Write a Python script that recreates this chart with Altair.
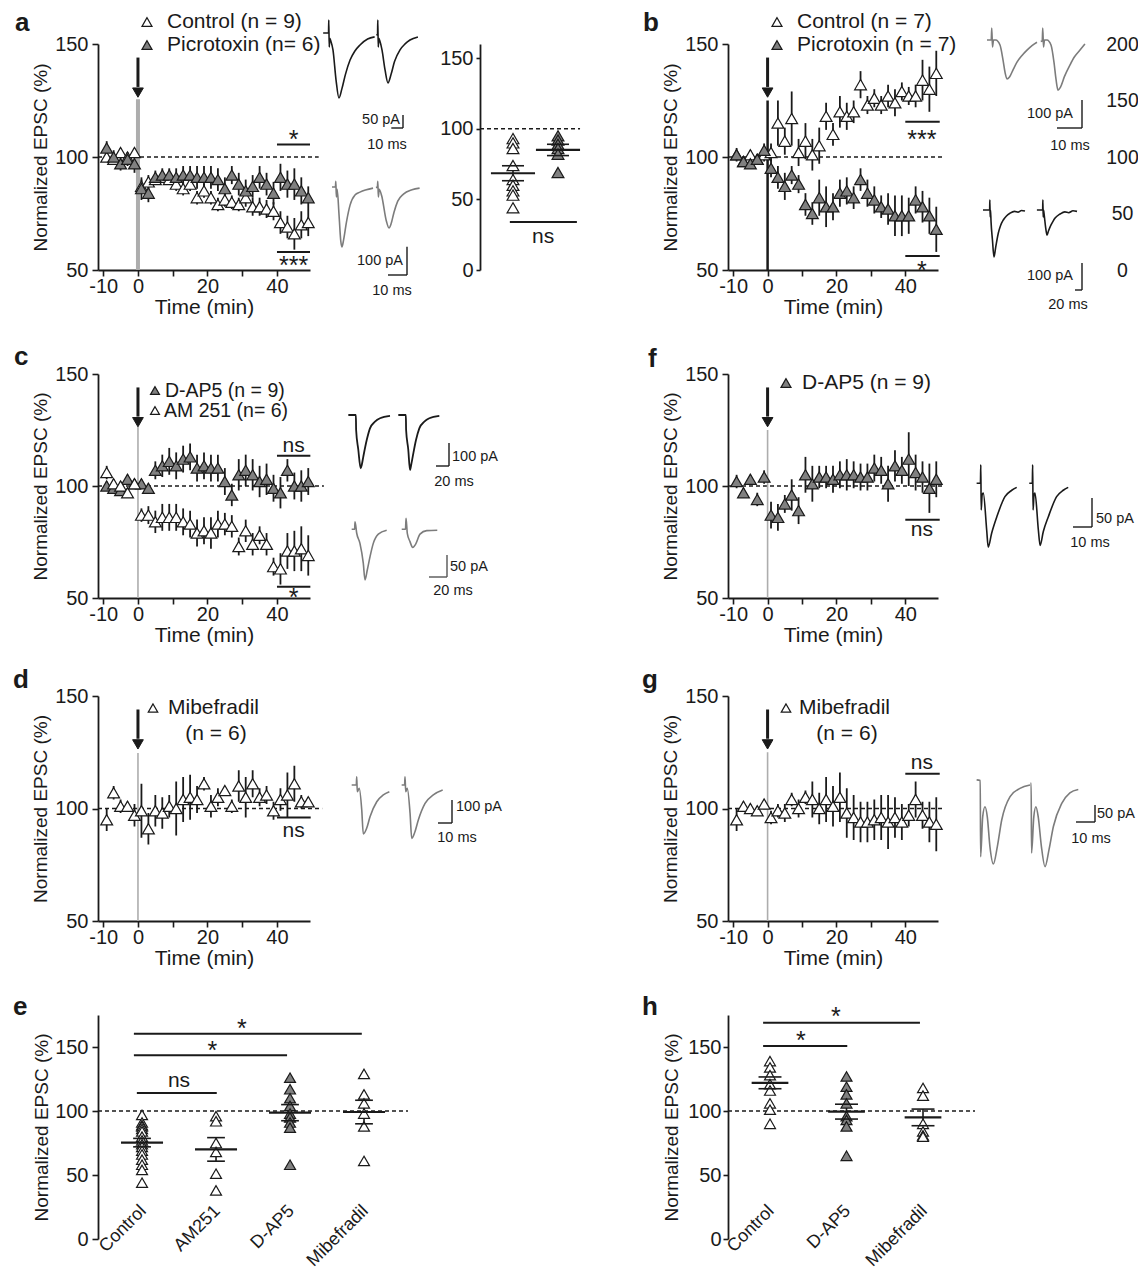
import altair as alt
import pandas as pd

FONT = "Liberation Sans"
INK = "#1a1a1a"
GREY = "#808080"
TRACE_GREY = "#7c7c7c"
ZERO_GREY = "#adadad"

# ---------------- time-course data (mean %, SEM %) ----------------
TIME = [-9, -7, -5, -3, -1, 1, 3, 5, 7, 9, 11, 13, 15, 17, 19,
        21, 23, 25, 27, 29, 31, 33, 35, 37, 39, 41, 43, 45, 47, 49]

A_CTRL = [100, 99, 102, 100, 102, 87, 89, 90, 91, 90, 88, 86, 88, 82, 85,
          82, 79, 81, 80, 79, 82, 78, 78, 77, 76, 71, 69, 66, 70, 71]
A_CTRL_SEM = [2, 2, 2, 2, 2, 3, 3, 2, 2, 2, 3, 3, 3, 3, 3,
              3, 3, 3, 3, 3, 4, 4, 4, 4, 4, 5, 5, 7, 6, 6]
A_PTX = [104, 100, 97, 99, 97, 86, 84, 91, 92, 92, 91, 92, 92, 91, 91,
         91, 90, 86, 92, 88, 85, 87, 91, 88, 84, 91, 88, 88, 85, 82]
A_PTX_SEM = [3, 3, 3, 3, 4, 5, 4, 3, 3, 3, 4, 4, 4, 5, 5,
             5, 5, 5, 4, 5, 5, 5, 5, 5, 5, 6, 6, 7, 6, 5]

B_CTRL = [101, 98, 101, 99, 101, 102, 115, 107, 117, 102, 107, 101, 105, 118, 110,
          120, 118, 120, 132, 123, 126, 123, 127, 124, 129, 127, 127, 134, 130, 137]
B_CTRL_SEM = [2, 2, 2, 2, 3, 4, 10, 6, 12, 6, 8, 7, 8, 6, 5,
              7, 6, 5, 6, 4, 4, 4, 5, 6, 4, 4, 5, 9, 10, 10]
B_PTX = [101, 98, 97, 99, 103, 95, 91, 87, 92, 88, 79, 75, 82, 78, 78,
         84, 85, 82, 90, 84, 81, 78, 77, 74, 74, 74, 81, 78, 74, 68]
B_PTX_SEM = [3, 2, 2, 2, 3, 4, 5, 6, 4, 4, 5, 5, 8, 9, 6,
             6, 6, 5, 5, 6, 6, 5, 7, 9, 9, 8, 6, 7, 8, 10]

C_DAP5 = [100, 99, 98, 103, 101, 101, 99, 107, 109, 111, 109, 112, 113, 108, 109,
          108, 108, 102, 96, 105, 107, 105, 102, 103, 99, 97, 107, 100, 100, 102]
C_DAP5_SEM = [2, 2, 2, 2, 2, 2, 2, 4, 5, 6, 6, 6, 6, 6, 6,
              6, 6, 6, 5, 7, 7, 7, 7, 7, 6, 7, 5, 6, 7, 6]
C_AM = [106, 101, 100, 97, 101, 87, 87, 84, 86, 86, 86, 84, 83, 79, 80,
        79, 83, 83, 82, 73, 80, 74, 78, 74, 64, 63, 71, 71, 72, 69]
C_AM_SEM = [3, 2, 2, 2, 2, 3, 4, 5, 6, 6, 6, 6, 6, 6, 6,
            7, 6, 5, 5, 4, 5, 5, 4, 5, 4, 7, 8, 9, 10, 9]

F_DAP5 = [102, 97, 103, 94, 104, 87, 86, 92, 96, 89, 105, 101, 104, 104, 103,
          105, 105, 105, 104, 104, 108, 107, 101, 109, 107, 112, 106, 104, 99, 103]
F_SEM = [3, 2, 2, 3, 3, 6, 6, 4, 7, 6, 8, 8, 5, 5, 6,
         6, 7, 6, 6, 6, 6, 6, 8, 7, 6, 12, 8, 7, 11, 8]

D_MIB = [95, 107, 101, 101, 97, 99, 91, 99, 98, 101, 100, 104, 105, 104, 111,
         101, 105, 108, 101, 110, 105, 111, 105, 106, 99, 104, 106, 111, 103, 103]
D_SEM = [5, 3, 3, 2, 5, 12, 7, 7, 7, 5, 12, 10, 10, 6, 3,
         5, 4, 2, 3, 7, 9, 6, 4, 4, 4, 5, 10, 8, 3, 2]

G_MIB = [95, 101, 100, 99, 102, 96, 99, 98, 104, 100, 105, 104, 100, 104, 101,
         105, 98, 96, 94, 94, 95, 96, 94, 96, 94, 97, 104, 97, 94, 93]
G_SEM = [5, 2, 2, 2, 2, 3, 3, 4, 3, 4, 3, 8, 7, 10, 9,
         11, 11, 10, 9, 9, 9, 10, 12, 9, 8, 5, 8, 6, 9, 12]

# ---------------- scatter (individual cells) ----------------
ASC_CTRL = [93, 90, 86, 74, 64, 60, 56, 53, 44]
ASC_PTX = [95, 92, 89, 86, 82, 69]
ASC_MEAN = [68.5, 85]
ASC_SEM = [5.3, 4.0]

E_NAMES = ["Control", "AM251", "D-AP5", "Mibefradil"]
E_CTRL = [97, 91, 89, 88, 86, 84, 80, 77, 74, 72, 69, 66, 62, 58, 54, 44]
E_AM = [96, 92, 75, 68, 51, 38]
E_DAP5 = [126, 117, 110, 104, 98, 95, 91, 87, 58]
E_MIB = [129, 113, 106, 98, 88, 61]
E_MEAN = [75.3, 70, 98.7, 99.2]
E_SEM = [3.3, 9.2, 6.3, 9.2]

H_NAMES = ["Control", "D-AP5", "Mibefradil"]
H_CTRL = [139, 134, 128, 121, 116, 106, 101, 90]
H_DAP5 = [127, 119, 113, 106, 96, 93, 88, 65]
H_MIB = [118, 112, 90, 84, 81, 80]
H_MEAN = [122, 99.5, 95]
H_SEM = [4.6, 5.8, 6.5]

# ---------------- example EPSC traces (time ms, current pA) ----------------
A_TOP_S1_T = [-5, -0.4, -0.2, 0.2, 0.6, 1.5, 3.4, 6, 8.5, 11, 14, 18, 22, 26.5, 33, 39]
A_TOP_S1_I = [0, 0, 50, -54, -20, -30, -65, -180, -250, -215, -160, -104, -70, -46, -23, -15]
A_TOP_S2_T = [40.5, 41.5, 41.7, 42.1, 42.5, 43.4, 45.3, 47.9, 50.4, 53, 56, 60.7, 65, 69.2, 76]
A_TOP_S2_I = [-8, -5, 50, -54, -20, -30, -65, -142, -192, -160, -110, -65, -42, -27, -15]

A_BOT_S1_T = [-2.1, -0.3, -0.1, 0.2, 0.6, 1.6, 2.5, 3.1, 4.0, 5.5, 7.4, 10, 12.6, 19.5]
A_BOT_S1_I = [0, 0, 20, -35, -8, -99, -190, -212, -187, -124, -64, -28, -18, -4]
A_BOT_S2_T = [21.0, 21.8, 22.0, 22.3, 22.7, 24.0, 26.5, 27.9, 29.0, 30.5, 32.5, 35.5, 40, 44]
A_BOT_S2_I = [-2, 0, 20, -35, -8, -30, -120, -145, -130, -90, -50, -25, -10, -4]

B_TOP_S1_T = [-2.0, -0.3, -0.1, 0.2, 0.6, 1.5, 3.2, 4.4, 5.2, 6.0, 7.0, 8.5, 10, 12, 14, 16, 18]
B_TOP_S1_I = [0, 0, 43, -25, 0, 0, -18, -71, -115, -139, -132, -105, -79, -55, -36, -20, -8]
B_TOP_S2_T = [19.5, 20.1, 20.3, 20.6, 21.0, 22.0, 23.6, 24.8, 25.6, 26.4, 27.4, 29, 31.2, 33, 35.2, 37.2]
B_TOP_S2_I = [-5, -3, 43, -25, 0, 0, -18, -80, -140, -179, -168, -130, -89, -60, -36, -14]

B_BOT_S1_T = [-20, -1, -0.5, 0.5, 1.5, 3, 7, 11.4, 16, 23.8, 30, 38, 47, 57, 70, 80, 90, 100]
B_BOT_S1_I = [0, 0, 37, -26, 0, -44, -111, -174, -140, -85, -58, -37, -22, -12, -5, -8, -2, -4]
B_BOT_S2_T = [134, 150.5, 151, 152, 153, 155, 159, 162.9, 167, 174, 180, 186, 200, 214, 225, 237, 248.6]
B_BOT_S2_I = [0, 0, 37, -26, 0, -20, -65, -93, -78, -56, -42, -30, -15, -7, -10, -3, -5]

C_TOP_S1_T = [-11.8, -0.2, 0.2, 3.5, 7.2, 9, 11.2, 16.5, 21.5, 29.2, 36.9, 52.3]
C_TOP_S1_I = [0, 0, -65, -150, -232, -215, -182, -109, -58, -29, -14, -4]
C_TOP_S2_T = [65.1, 76.7, 77.1, 80.4, 83.1, 85, 87.2, 92.3, 97.4, 105.1, 112.8, 128.2]
C_TOP_S2_I = [0, 0, -65, -150, -239, -215, -182, -109, -58, -29, -14, -4]

C_BOT_S1_T = [-4.8, -1.5, -1.1, 0.8, 4.4, 8.1, 10, 12.6, 15.6, 19.2, 24.8, 34.1]
C_BOT_S1_I = [0, 0, 17, -9, -32, -77, -115, -92, -62, -32, -11, -2]
C_BOT_S2_T = [50.8, 55.0, 55.6, 57.0, 60.0, 63.0, 66.7, 71.1, 78.6, 90.3]
C_BOT_S2_I = [0, 0, 25, -9, -28, -41, -32, -11, -3, -2]

F_S1_T = [-2.3, -0.3, -0.1, 0.1, 0.6, 1.2, 3.0, 3.8, 5.6, 8.3, 12.6, 16.2, 18.8]
F_S1_I = [0, 0, 32, -46, -20, -17, -81, -110, -86, -58, -23, -12, -7]
F_S2_T = [25.4, 27.0, 27.2, 27.4, 27.9, 28.4, 30.2, 31.1, 32.8, 35.4, 39.8, 43.3, 45.9]
F_S2_I = [0, 0, 32, -46, -20, -17, -81, -107, -83, -58, -23, -12, -7]

D_S1_T = [-3.8, -0.5, -0.2, 0.2, 1.6, 3.4, 4.5, 6.9, 9.3, 14.1, 18.8, 23.1]
D_S1_I = [0, 0, 36, -29, -14, -109, -213, -188, -138, -73, -43, -29]
D_S2_T = [31.9, 34.0, 34.3, 34.8, 35.9, 37.9, 39.1, 41.4, 43.8, 48.6, 54.5, 61.2]
D_S2_I = [0, 0, 36, -29, -14, -123, -232, -203, -152, -80, -43, -22]

G_S1_T = [-2.3, -0.4, -0.2, 0.9, 2.1, 3.3, 4.7, 6.5, 8.6, 10.9, 15.3, 20.5, 25.8]
G_S1_I = [15, 13, -211, -93, -64, -93, -181, -232, -181, -103, -34, -10, 0]
G_S2_T = [26.0, 26.4, 26.6, 27.8, 28.9, 30.1, 31.8, 33.7, 35.8, 38.1, 42.5, 46.8, 51.2]
G_S2_I = [5, 5, -200, -93, -64, -93, -181, -240, -190, -122, -54, -23, -13]

# ---------------- helpers ----------------
XMIN, XMAX = -11.5, 49.5
X_LABELS = ("datum.value == -10 ? '-10' : ((datum.value == 0 || datum.value == 20 || "
            "datum.value == 40) ? datum.label : '')")
AXSTYLE = dict(grid=False, domainColor=INK, tickColor=INK, labelColor=INK, titleColor=INK,
               domainWidth=1.8, tickWidth=1.6, labelFlush=False, labelOverlap=False,
               labelFont=FONT, titleFont=FONT, titleFontWeight="normal")
BAR_FONT = 14.5


def one(**kw):
    return alt.Chart(pd.DataFrame({k: [v] for k, v in kw.items()}))


def ann_text(text, x, y, size, align="left", baseline="middle", weight="normal", color=INK):
    return alt.Chart(pd.DataFrame({"s": [text]})).mark_text(
        align=align, baseline=baseline, fontSize=size, fontWeight=weight, font=FONT, color=color
    ).encode(x=alt.value(x), y=alt.value(y), text="s:N")


def ann_tri(x, y, filled, size):
    return alt.Chart(pd.DataFrame({"s": [0]})).mark_point(
        shape="triangle-up", filled=True, fill=GREY if filled else "white", stroke=INK,
        strokeWidth=1.2, size=size, opacity=1
    ).encode(x=alt.value(x), y=alt.value(y))


def sig_text(label, x, y, X, Y):
    star = "*" in label
    fs = 25 if star else 21
    dy = 0.57 * fs if star else 0.26 * fs
    return alt.Chart(pd.DataFrame({"x": [x], "y": [y], "s": [label]})).mark_text(
        font=FONT, fontSize=fs, baseline="alphabetic", align="center", dy=dy, color=INK
    ).encode(x=X("x"), y=Y("y"), text="s:N")


def tri_mark(chart, filled, size):
    return chart.mark_point(shape="triangle-up", filled=True, fill=GREY if filled else "white",
                            stroke=INK, strokeWidth=1.2, size=size, opacity=1)


def filler():
    return alt.Chart(pd.DataFrame({"v": [0]})).mark_point(opacity=0).encode(
        x=alt.X("v:Q", axis=None), y=alt.Y("v:Q", axis=None)).properties(width=1, height=1)


def time_panel(w, h, series, dash_end, zero_top, zero_color, zero_width, sigs, letter, legend,
               legend_font=21):
    xs = alt.Scale(domain=[XMIN, XMAX], nice=False, zero=False)
    ys = alt.Scale(domain=[50, 150], nice=False, zero=False)
    xax = alt.Axis(values=[-10, 0, 10, 20, 30, 40, 50], labelExpr=X_LABELS, title="Time (min)",
                   titleFontSize=21, titleX=w / 2, titleY=37, titleBaseline="middle", titleAlign="center",
                   labelFontSize=20, labelPadding=0, tickSize=6, **AXSTYLE)
    yax = alt.Axis(values=[50, 100, 150], title="Normalized EPSC (%)", titleFontSize=19,
                   titleX=-58, titleY=h / 2, titleBaseline="middle", titleAlign="center",
                   labelFontSize=20, labelPadding=4, tickSize=6, **AXSTYLE)

    def X(f):
        return alt.X(f, type="quantitative", scale=xs, axis=xax)

    def Y(f):
        return alt.Y(f, type="quantitative", scale=ys, axis=yax)

    layers = [
        one(x1=XMIN, x2=dash_end, y=100).mark_rule(color=INK, strokeWidth=1.3, strokeDash=[4, 3])
        .encode(x=X("x1"), x2="x2", y=Y("y")),
        one(t=0, y1=50, y2=zero_top).mark_rule(color=zero_color, strokeWidth=zero_width)
        .encode(x=X("t"), y=Y("y1"), y2="y2"),
        one(t=0, y1=131, y2=144).mark_rule(color=INK, strokeWidth=3)
        .encode(x=X("t"), y=Y("y1"), y2="y2"),
        one(t=0, y=128.5).mark_point(shape="triangle-down", filled=True, fill=INK, stroke=INK,
                                     strokeWidth=1, size=115, opacity=1)
        .encode(x=X("t"), y=Y("y")),
    ]
    frames = [pd.DataFrame({"t": TIME, "v": v, "e": e}) for v, e, _ in series]
    for df in frames:
        layers.append(alt.Chart(df).transform_calculate(lo="datum.v - datum.e", hi="datum.v + datum.e")
                      .mark_rule(color=INK, strokeWidth=1.8).encode(x=X("t"), y=Y("lo"), y2="hi"))
    for df, (_, _, filled) in zip(frames, series):
        layers.append(tri_mark(alt.Chart(df), filled, 140).encode(x=X("t"), y=Y("v")))
    for bar_y, bar_x2, label, ty in sigs:
        layers.append(one(x1=40, x2=bar_x2, y=bar_y).mark_rule(color=INK, strokeWidth=2)
                      .encode(x=X("x1"), x2="x2", y=Y("y")))
        layers.append(sig_text(label, 44.8, ty, X, Y))
    ch, lx, ly = letter
    layers.append(ann_text(ch, lx, ly, 26, baseline="alphabetic", weight="bold"))
    for item in legend:
        if item[0] == "tri":
            layers.append(ann_tri(item[1], item[2], item[3], item[4]))
        else:
            layers.append(ann_text(item[1], item[2], item[3], legend_font, item[4]))
    return alt.layer(*layers).properties(width=w, height=h)


def scatter_layer(h, groups, means, sems, xdom, ydom, yax, mean_half, sem_half, tri_size,
                  dash_start, dash_end, sigs, names=None, letter=None):
    xs = alt.Scale(domain=xdom, nice=False, zero=False)
    ys = alt.Scale(domain=ydom, nice=False, zero=False)

    def X(f):
        return alt.X(f, type="quantitative", scale=xs, axis=None)

    def Y(f):
        return alt.Y(f, type="quantitative", scale=ys, axis=yax)

    pos = list(range(1, len(means) + 1))
    stat = alt.Chart(pd.DataFrame({"g": pos, "m": means, "s": sems})).transform_calculate(
        ml="datum.g - %f" % mean_half, mr="datum.g + %f" % mean_half,
        sl="datum.g - %f" % sem_half, sr="datum.g + %f" % sem_half,
        lo="datum.m - datum.s", hi="datum.m + datum.s")
    layers = [
        one(x1=dash_start, x2=dash_end, y=100).mark_rule(color=INK, strokeWidth=1.3, strokeDash=[4, 3])
        .encode(x=X("x1"), x2="x2", y=Y("y")),
        stat.mark_rule(color=INK, strokeWidth=1.6).encode(x=X("g"), y=Y("lo"), y2="hi"),
    ]
    for i, (vals, filled) in enumerate(groups):
        df = pd.DataFrame({"g": [i + 1] * len(vals), "v": vals})
        layers.append(tri_mark(alt.Chart(df), filled, tri_size).encode(x=X("g"), y=Y("v")))
    layers += [
        stat.mark_rule(color=INK, strokeWidth=2.2).encode(x=X("ml"), x2="mr", y=Y("m")),
        stat.mark_rule(color=INK, strokeWidth=1.6).encode(x=X("sl"), x2="sr", y=Y("lo")),
        stat.mark_rule(color=INK, strokeWidth=1.6).encode(x=X("sl"), x2="sr", y=Y("hi")),
    ]
    for x1, x2, y, label, tx, ty in sigs:
        layers.append(one(x1=x1, x2=x2, y=y).mark_rule(color=INK, strokeWidth=2)
                      .encode(x=X("x1"), x2="x2", y=Y("y")))
        layers.append(sig_text(label, tx, ty, X, Y))
    if names:
        layers.append(
            alt.Chart(pd.DataFrame({"g": pos, "name": names})).mark_text(
                angle=315, align="right", baseline="alphabetic", fontSize=18, font=FONT, color=INK,
                dx=3.5, dy=3.5
            ).encode(x=X("g"), y=alt.value(h - 27), text="name:N"))
    if letter:
        ch, lx, ly = letter
        layers.append(ann_text(ch, lx, ly, 26, baseline="alphabetic", weight="bold"))
    return alt.layer(*layers)


def trace_layer(sweeps, color, box, origin, sx, sy, bar, texts, lw=1.6):
    x0, y0, w, h = box
    ox, oy = origin
    xs = alt.Scale(domain=[(x0 - ox) / sx, (x0 + w - ox) / sx], nice=False, zero=False)
    ys = alt.Scale(domain=[(oy - y0 - h) / sy, (oy - y0) / sy], nice=False, zero=False)

    def X(f):
        return alt.X(f, type="quantitative", scale=xs, axis=None)

    def Y(f):
        return alt.Y(f, type="quantitative", scale=ys, axis=None)

    df = pd.concat([pd.DataFrame({"t": tt, "i": ii, "sweep": k}) for k, (tt, ii) in enumerate(sweeps)],
                   ignore_index=True)
    layers = [alt.Chart(df).mark_line(color=color, strokeWidth=lw, interpolate="monotone")
              .encode(x=X("t"), y=Y("i"), detail="sweep:N")]
    bx, by, dt, di, bcol = bar
    tc = (bx - ox) / sx
    ic = (oy - by) / sy
    layers.append(one(t=tc, i1=ic, i2=ic + di).mark_rule(color=bcol, strokeWidth=1.4)
                  .encode(x=X("t"), y=Y("i1"), y2="i2"))
    layers.append(one(t1=tc - dt, t2=tc, i=ic).mark_rule(color=bcol, strokeWidth=1.4)
                  .encode(x=X("t1"), x2="t2", y=Y("i")))
    for label, px, py, align in texts:
        layers.append(ann_text(label, px - x0, py - y0, BAR_FONT, align))
    return alt.layer(*layers)


def combine(w, h, *layers):
    return alt.layer(*layers).resolve_scale(x="independent", y="independent").properties(width=w, height=h)


# ---------------- panels ----------------
a_time = time_panel(
    212, 226, [(A_CTRL, A_CTRL_SEM, False), (A_PTX, A_PTX_SEM, True)], 52, 125.5, ZERO_GREY, 4,
    [(105.5, 49.5, "*", 110.5), (58, 49.5, "***", 54.5)], ("a", -83, -13),
    [("tri", 49, -22, False, 100), ("txt", "Control (n = 9)", 69, -22, "left"),
     ("tri", 49, 1, True, 100), ("txt", "Picrotoxin (n= 6)", 69, 1, "left")])

A_BOX = (310, 44, 418, 226)
a_mid = combine(
    418, 226,
    trace_layer([(A_TOP_S1_T, A_TOP_S1_I), (A_TOP_S2_T, A_TOP_S2_I)], INK, A_BOX,
                (329, 33), 1.17, 0.26, (403, 128, 10, 50, INK),
                [("50 pA", 400, 120, "right"), ("10 ms", 387, 145, "center")]),
    trace_layer([(A_BOT_S1_T, A_BOT_S1_I), (A_BOT_S2_T, A_BOT_S2_I)], TRACE_GREY, A_BOX,
                (336, 187), 1.9, 0.283, (407, 275, 10, 100, INK),
                [("100 pA", 403, 261, "right"), ("10 ms", 392, 291, "center")]),
    scatter_layer(
        226, [(ASC_CTRL, False), (ASC_PTX, True)], ASC_MEAN, ASC_SEM, [-3.511, 5.778], [0, 160],
        alt.Axis(values=[0, 50, 100, 150], title=None, labelFontSize=20, labelPadding=3, tickSize=4,
                 offset=-170, **AXSTYLE),
        0.49, 0.245, 140, 0.267, 2.49, [(0.93, 2.42, 34, "ns", 1.67, 22.7)]))

b_time = time_panel(
    210, 226, [(B_CTRL, B_CTRL_SEM, False), (B_PTX, B_PTX_SEM, True)], 51, 125, INK, 2.5,
    [(115.6, 50, "***", 110.4), (56.2, 50, "*", 52.4)], ("b", -85, -13),
    [("tri", 49, -22, False, 100), ("txt", "Control (n = 7)", 69, -22, "left"),
     ("tri", 49, 1, True, 100), ("txt", "Picrotoxin (n = 7)", 69, 1, "left")])

B_BOX = (938, 44, 202, 330)
b_traces = combine(
    202, 330,
    trace_layer([(B_TOP_S1_T, B_TOP_S1_I), (B_TOP_S2_T, B_TOP_S2_I)], TRACE_GREY, B_BOX,
                (992, 40), 2.5, 0.28, (1082, 128, 10, 100, INK),
                [("100 pA", 1073, 114, "right"), ("10 ms", 1070, 146, "center")]),
    trace_layer([(B_BOT_S1_T, B_BOT_S1_I), (B_BOT_S2_T, B_BOT_S2_I)], INK, B_BOX,
                (990, 210), 0.35, 0.27, (1082, 290, 20, 100, INK),
                [("100 pA", 1073, 276, "right"), ("20 ms", 1068, 305, "center")]))

b_axis = alt.Chart(pd.DataFrame({"v": [0, 200]})).mark_point(opacity=0).encode(
    y=alt.Y("v:Q", scale=alt.Scale(domain=[0, 200], nice=False),
            axis=alt.Axis(values=[0, 50, 100, 150, 200], domain=False, ticks=False, tickSize=0,
                          labelPadding=18, labelAlign="center", labelFontSize=19.5, title=None,
                          grid=False, labelColor=INK, labelFont=FONT, labelFlush=False))
).properties(width=1, height=226)

c_time = time_panel(
    212, 224, [(C_DAP5, C_DAP5_SEM, True), (C_AM, C_AM_SEM, False)], 53.5, 126.5, ZERO_GREY, 1.6,
    [(113.5, 49.6, "ns", 117.5), (55, 49.6, "*", 52.8)], ("c", -84, -9),
    [("tri", 57, 16.5, True, 80), ("txt", "D-AP5 (n = 9)", 67, 16.5, "left"),
     ("tri", 57, 36.5, False, 80), ("txt", "AM 251 (n= 6)", 66, 36.5, "left")], legend_font=19.5)

C_BOX = (310, 374, 418, 322)
c_traces = combine(
    418, 322,
    trace_layer([(C_TOP_S1_T, C_TOP_S1_I), (C_TOP_S2_T, C_TOP_S2_I)], INK, C_BOX,
                (356, 415), 0.65, 0.23, (449, 466, 20, 100, INK),
                [("100 pA", 452, 457, "left"), ("20 ms", 454, 482, "center")], lw=1.8),
    trace_layer([(C_BOT_S1_T, C_BOT_S1_I), (C_BOT_S2_T, C_BOT_S2_I)], TRACE_GREY, C_BOX,
                (356, 529.3), 0.9, 0.44, (447, 577, 20, 50, "#555555"),
                [("50 pA", 450, 567, "left"), ("20 ms", 453, 591, "center")]))

f_time = time_panel(
    210, 224, [(F_DAP5, F_SEM, True)], 51, 125, ZERO_GREY, 1.6,
    [(84.9, 50, "ns", 80.1)], ("f", -80, -7),
    [("tri", 58, 9, True, 100), ("txt", "D-AP5 (n = 9)", 74, 9, "left")])

f_traces = trace_layer([(F_S1_T, F_S1_I), (F_S2_T, F_S2_I)], INK, (938, 374, 202, 322),
                       (981, 483.3), 1.9, 0.58, (1092, 527, 10, 50, INK),
                       [("50 pA", 1096, 519, "left"), ("10 ms", 1090, 543, "center")]
                       ).properties(width=202, height=322)

d_time = time_panel(
    212, 225, [(D_MIB, D_SEM, False)], 53, 124.7, ZERO_GREY, 1.6,
    [(96, 49.7, "ns", 89.9)], ("d", -85, -8),
    [("tri", 55, 12, False, 90), ("txt", "Mibefradil", 70, 12, "left"),
     ("txt", "(n = 6)", 118, 38, "center")])

d_traces = trace_layer([(D_S1_T, D_S1_I), (D_S2_T, D_S2_I)], TRACE_GREY, (310, 696, 418, 319),
                       (357, 785), 1.4, 0.23, (452, 823, 10, 100, INK),
                       [("100 pA", 456, 807, "left"), ("10 ms", 457, 838, "center")]
                       ).properties(width=418, height=319)

g_time = time_panel(
    210, 225, [(G_MIB, G_SEM, False)], 51, 125, ZERO_GREY, 1.6,
    [(115.5, 50, "ns", 119.9)], ("g", -86, -8),
    [("tri", 58, 12, False, 90), ("txt", "Mibefradil", 71, 12, "left"),
     ("txt", "(n = 6)", 119, 38, "center")])

g_traces = trace_layer([(G_S1_T, G_S1_I), (G_S2_T, G_S2_I)], TRACE_GREY, (938, 696, 202, 319),
                       (981, 785), 1.9, 0.34, (1095, 822, 10, 50, INK),
                       [("50 pA", 1097, 814, "left"), ("10 ms", 1091, 839, "center")]
                       ).properties(width=202, height=319)

E_YAX = alt.Axis(values=[0, 50, 100, 150], title="Normalized EPSC (%)", titleFontSize=19, titleX=-57,
                 titleY=112, titleBaseline="middle", titleAlign="center", labelFontSize=20,
                 labelPadding=4, tickSize=6, **AXSTYLE)
H_YAX = alt.Axis(values=[0, 50, 100, 150], title="Normalized EPSC (%)", titleFontSize=19, titleX=-57,
                 titleY=112, titleBaseline="middle", titleAlign="center", labelFontSize=20,
                 labelPadding=2, tickSize=5, **AXSTYLE)

e_scatter = scatter_layer(
    224, [(E_CTRL, False), (E_AM, False), (E_DAP5, True), (E_MIB, False)], E_MEAN, E_SEM,
    [0.405, 3.27], [0, 175], E_YAX, 0.284, 0.12, 120, 0.405, 4.595,
    [(0.93, 2.01, 114, "ns", 1.5, 122.9), (0.89, 2.96, 143.6, "*", 1.95, 152),
     (0.89, 3.97, 160.4, "*", 2.35, 169)], names=E_NAMES, letter=("e", -85, 0)
).properties(width=212, height=224)

h_scatter = scatter_layer(
    224, [(H_CTRL, False), (H_DAP5, True), (H_MIB, False)], H_MEAN, H_SEM,
    [0.451, 3.196], [0, 175], H_YAX, 0.24, 0.15, 120, 0.451, 3.68,
    [(0.91, 2.01, 150.8, "*", 1.405, 159.4), (0.91, 2.96, 169, "*", 1.86, 178)],
    names=H_NAMES, letter=("h", -86, 0)
).properties(width=210, height=224)

cells = [
    a_time, a_mid, b_time, b_traces, b_axis,
    c_time, c_traces, f_time, f_traces, filler(),
    d_time, d_traces, g_time, g_traces, filler(),
    e_scatter, filler(), h_scatter, filler(), filler(),
]

# grid origin (top-left of panel a's plot area) sits at page (98, 44); canvas is 1130 x 1264
chart = alt.concat(
    *cells, columns=5, spacing=0, bounds="flush", align="each"
).properties(
    autosize=alt.AutoSizeParams(type="none"),
    padding={"left": 90, "top": 36, "right": 1040, "bottom": 1228},
).configure(
    font=FONT, view=alt.ViewConfig(strokeWidth=0, stroke="transparent")
)

chart.save("out.html", embed_options={"renderer": "svg", "actions": False})
